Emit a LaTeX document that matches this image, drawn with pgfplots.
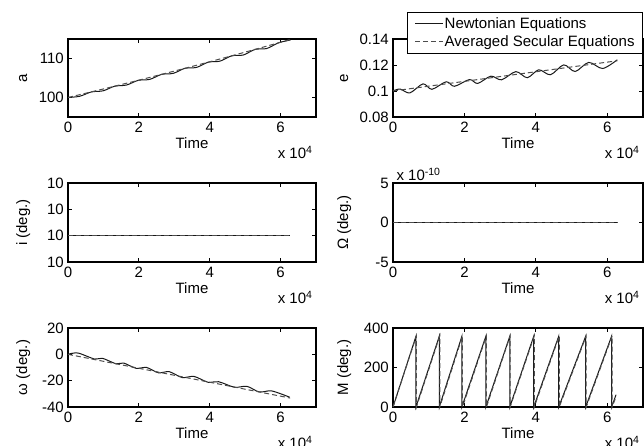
\documentclass[border=0pt]{standalone}
\usepackage{fontspec}
\setmainfont{Liberation Sans}
\usepackage{pgfplots}
\pgfplotsset{compat=1.18}
\newcommand\fs{\fontsize{15}{18}\selectfont}

\pgfplotsset{
  panel/.style={
    scale only axis, anchor=south west, clip=false,
    width=248pt, height=79pt,
    xmin=0, xmax=7, xtick={0,2,4,6}, xticklabels={0,2,4,6},
    axis line style={line width=1.2pt},
    major tick style={line width=0.8pt, black},
    major tick length=4pt, tick align=inside,
    tick label style={font=\fs},
    xticklabel style={anchor=base, yshift=-16pt},
    yticklabel style={anchor=east, inner sep=0pt, xshift=-4pt},
    label style={font=\fs},
    xlabel={Time},
    xlabel style={at={(axis description cs:0.5,0)}, anchor=base, yshift=-32pt},
    ylabel style={at={(axis description cs:-0.165,0.5)}, anchor=base},
  },
  rightcol/.style={width=250pt,
    ylabel style={at={(axis description cs:-0.18,0.5)}, anchor=base}},
  newt/.style={black!90, line width=1pt},
  avg/.style={black!70, line width=1pt, dash pattern=on 5pt off 3pt},
}
\newcommand\xscale{\node[font=\fs, anchor=base east] at (rel axis cs:1,0) [yshift=-42pt] {x 10\textsuperscript{4}};}

\begin{document}
\begin{tikzpicture}
\useasboundingbox (0pt,0pt) rectangle (644pt,446pt);

% a
\begin{axis}[panel, at={(68pt,329pt)}, height=78pt,
  ymin=95, ymax=115, ytick={100,110}, yticklabels={100,110}, ylabel={a}]
\addplot[newt, smooth] coordinates {
 (0,100.0) (0.33,100.31) (0.66,101.43) (0.99,101.71) (1.32,102.90) (1.65,103.19)
 (1.98,104.39) (2.31,104.65) (2.64,105.92) (2.97,106.19) (3.30,107.48) (3.63,107.72)
 (3.96,109.06) (4.29,109.32) (4.62,110.68) (4.95,110.90) (5.28,112.33) (5.61,112.56)
 (5.94,114.01) (6.28,114.75)};
\addplot[avg, smooth] coordinates {
 (0,100.0) (1,102.19) (2,104.44) (3,106.77) (4,109.16) (5,111.63) (6,114.16) (6.28,114.88)};
\xscale
\end{axis}

% e
\begin{axis}[panel, rightcol, at={(393pt,329pt)}, height=78pt,
  ymin=0.08, ymax=0.14, ytick={0.08,0.1,0.12,0.14}, yticklabels={0.08,0.1,0.12,0.14}, ylabel={e},
  legend style={at={(rel axis cs:1,1)}, anchor=north east, yshift=27pt, font=\fs,
    draw=black, line width=0.8pt, fill=white, inner xsep=7pt, inner ysep=4pt,
    row sep=4pt, nodes={inner sep=1pt}, cells={anchor=west}},
  legend image code/.code={\draw[#1] (0pt,0pt) -- (28pt,0pt);}]
\addplot[newt, smooth] coordinates {
 (0,0.1000) (0.20,0.1015) (0.47,0.0985) (0.84,0.1055) (1.09,0.1013) (1.49,0.1071)
 (1.72,0.1036) (2.14,0.1088) (2.37,0.1058) (2.74,0.1114) (3.04,0.1086) (3.44,0.1149)
 (3.76,0.1102) (4.08,0.1163) (4.41,0.1125) (4.78,0.1201) (5.10,0.1150) (5.48,0.1220)
 (5.87,0.1173) (6.28,0.1240)};
\addlegendentry{Newtonian Equations}
\addplot[avg, smooth] coordinates {
 (0,0.1000) (1,0.1037) (2,0.1074) (3,0.1111) (4,0.1148) (5,0.1185) (6,0.1222) (6.28,0.1232)};
\addlegendentry{Averaged Secular Equations}
\xscale
\end{axis}

% i
\begin{axis}[panel, at={(68pt,184pt)},
  ymin=0, ymax=3, ytick={0,1,2,3}, yticklabels={10,10,10,10}, ylabel={i (deg.)}]
\addplot[newt] coordinates {(0,1) (6.28,1)};
\addplot[avg] coordinates {(0,1) (6.28,1)};
\xscale
\end{axis}

% Omega
\begin{axis}[panel, rightcol, at={(393pt,184pt)},
  ymin=-5, ymax=5, ytick={-5,0,5}, yticklabels={-5,0,5}, ylabel={Ω (deg.)}]
\addplot[newt] coordinates {(0,0) (6.28,0)};
\addplot[avg] coordinates {(0,0) (6.28,0)};
\xscale
\node[font=\fs, anchor=base west] at (rel axis cs:0,1) [yshift=2pt] {x 10\textsuperscript{-10}};
\end{axis}

% omega
\begin{axis}[panel, at={(68pt,39pt)},
  ymin=-40, ymax=20, ytick={-40,-20,0,20}, yticklabels={-40,-20,0,20}, ylabel={ω (deg.)}]
\addplot[newt, smooth] coordinates {
 (0,0) (0.28,1.0) (0.75,-3.6) (0.97,-3.0) (1.36,-7.2) (1.57,-6.6) (1.92,-10.6)
 (2.22,-10.0) (2.55,-14.0) (2.86,-13.2) (3.22,-17.6) (3.56,-16.8) (3.95,-21.2)
 (4.25,-20.8) (4.70,-25.0) (5.05,-24.3) (5.40,-28.6) (5.75,-27.8) (6.26,-32.6)};
\addplot[avg] coordinates {(0,0) (6.27,-33.2)};
\xscale
\end{axis}

% M
\begin{axis}[panel, rightcol, at={(393pt,39pt)},
  ymin=0, ymax=400, ytick={0,200,400}, yticklabels={0,200,400}, ylabel={M (deg.)}]
\addplot[newt] coordinates {
 (0,0) (0.643,358) (0.643,0) (1.295,358) (1.295,0) (1.929,358) (1.929,0)
 (2.600,358) (2.600,0) (3.270,358) (3.270,0) (3.940,358) (3.940,0) (4.640,358)
 (4.640,0) (5.395,358) (5.395,0) (6.120,358) (6.120,0) (6.245,62)};
\addplot[avg] coordinates {
 (0,0) (0.655,360) (0.655,0) (1.310,360) (1.310,0) (1.945,360) (1.945,0)
 (2.615,360) (2.615,0) (3.280,360) (3.280,0) (3.955,360) (3.955,0) (4.655,360)
 (4.655,0) (5.410,360) (5.410,0) (6.135,360) (6.135,0) (6.250,55)};
\xscale
\end{axis}
\end{tikzpicture}
\end{document}
